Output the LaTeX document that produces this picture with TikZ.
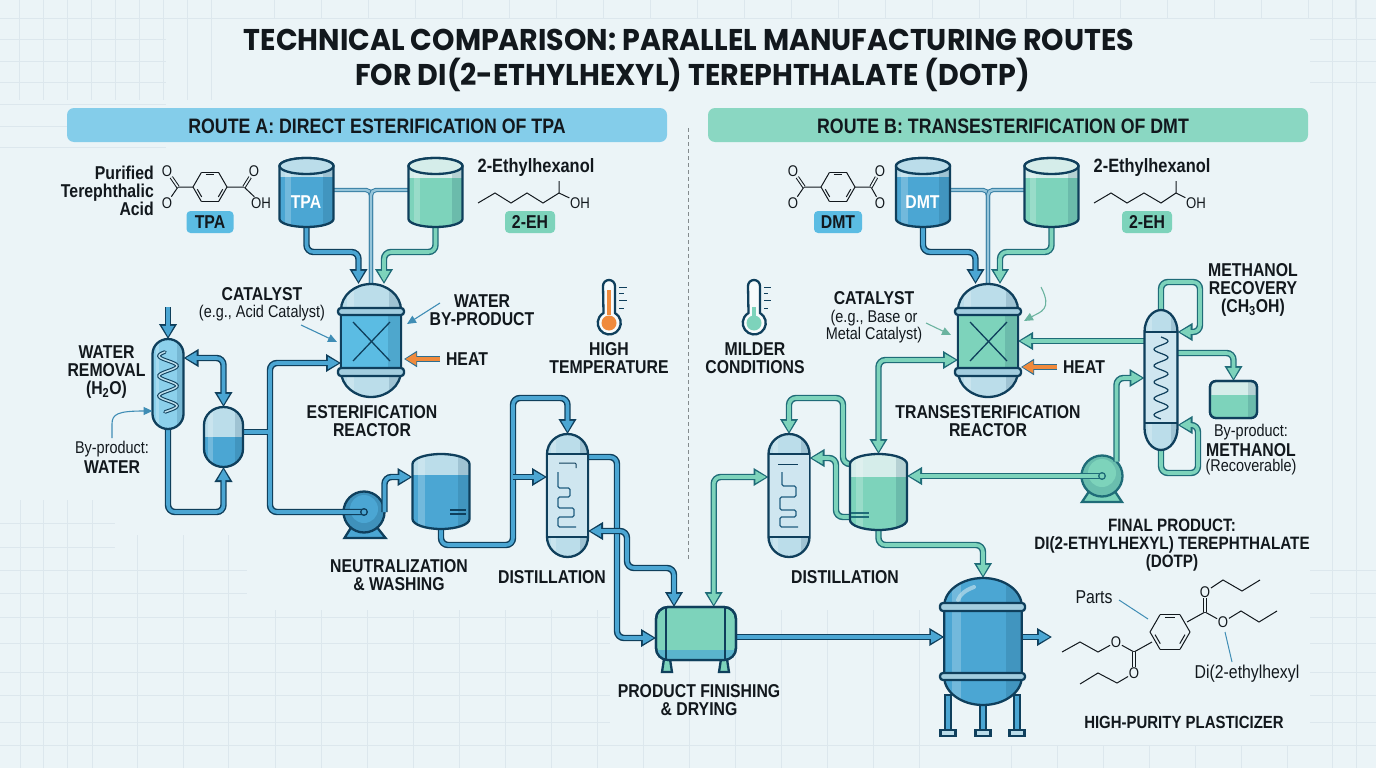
\documentclass[tikz,border=0pt]{standalone}
\usepackage{xcolor}
\usepackage{fontspec}
\setmainfont{Liberation Sans}[FakeStretch=0.85]
\newfontfamily\titlefont{Poppins}[FakeStretch=0.95]
\usepackage{tikz}
\usetikzlibrary{arrows.meta}

\definecolor{paper}{HTML}{EBF4F7}
\definecolor{gridc}{HTML}{DCE7ED}
\definecolor{ink}{HTML}{0F3F5C}
\definecolor{tealink}{HTML}{1F6C78}
\definecolor{labelink}{HTML}{12181D}
\definecolor{pipeblue}{HTML}{4BA6D3}
\definecolor{pipeteal}{HTML}{7DD3BB}
\definecolor{capblue}{HTML}{BBDDEA}
\definecolor{inner}{HTML}{CFE6F0}
\definecolor{midblue}{HTML}{5BBCE3}
\definecolor{toplight}{HTML}{D5EDEA}
\definecolor{leader}{HTML}{3F8DB5}
\definecolor{heat}{HTML}{F08A3C}

\tikzset{
        flow/.style 2 args={rounded corners=7pt,line width=3.6pt,draw=#1,shorten >=2.2pt,
                -{Triangle[length=11pt,width=11.5pt]},
                preaction={draw=#2,line width=6.4pt,shorten >=0pt,-{Triangle[length=15pt,width=17pt]}}},
        flowtwo/.style 2 args={rounded corners=7pt,line width=3.6pt,draw=#1,shorten >=2.2pt,shorten <=2.2pt,
                {Triangle[length=11pt,width=11.5pt]}-{Triangle[length=11pt,width=11.5pt]},
                preaction={draw=#2,line width=6.4pt,shorten >=0pt,shorten <=0pt,
                {Triangle[length=15pt,width=17pt]}-{Triangle[length=15pt,width=17pt]}}},
        blueflow/.style={flow={pipeblue}{ink}},
        tealflow/.style={flow={pipeteal}{tealink}},
        bluetwo/.style={flowtwo={pipeblue}{ink}},
        tealtwo/.style={flowtwo={pipeteal}{tealink}},
        heatflow/.style={line width=4.8pt,draw=heat,shorten >=1.4pt,-{Triangle[length=11pt,width=12pt]},
                preaction={draw=leader!60!ink,line width=6.2pt,shorten >=0pt,-{Triangle[length=13pt,width=15.5pt]}}},
        bluepipe/.style={rounded corners=7pt,line width=3.6pt,draw=pipeblue,preaction={draw=ink,line width=6.4pt}},
        ypipe/.style={rounded corners=5pt,line width=2.4pt,draw=capblue!70!leader,preaction={draw=leader!80!ink,line width=4.4pt}},
        vessel/.style={draw=ink,line width=2.3pt},
        box/.style={inner sep=0pt,outer sep=0pt},
        note/.style={draw=leader,line width=1.1pt,-{Triangle[length=9pt,width=8pt]}},
        notet/.style={draw=pipeteal!85!black,line width=1.1pt,-{Triangle[length=9pt,width=8pt]}},
        gridline/.style={draw=gridc,line width=0.7pt},
        bond/.style={draw=labelink,line width=1pt},
        lab/.style={inner sep=0pt,align=center,text=labelink,font=\fontsize{18.6}{18}\selectfont\bfseries},
        small/.style={inner sep=0pt,align=center,text=labelink,font=\fontsize{17}{17}\selectfont},
        chem/.style={inner sep=0.6pt,text=labelink,fill=paper,font=\fontsize{15.5}{15}\selectfont},
        badge/.style={inner sep=0pt,rounded corners=4pt,minimum height=22pt,text=labelink,font=\fontsize{18.6}{18}\selectfont\bfseries},
        banner/.style={inner sep=0pt,rounded corners=7pt,minimum width=600pt,minimum height=34pt},
        bannertext/.style={inner sep=0pt,text=labelink,font=\fontsize{20.9}{21}\selectfont\bfseries},
        heading/.style={inner sep=0pt,align=center,text=labelink,font=\titlefont\fontsize{30}{35}\selectfont\bfseries},
}

% name, cx, cy, w, h, cap, empty colour, liquid colour, liquid level
\newcommand{\tank}[9]{%
        \node[box,minimum width=#4pt,minimum height=#5pt] (#1) at (#2,#3) {};
        \pgfmathsetmacro\tkL{#2-#4/2}\pgfmathsetmacro\tkR{#2+#4/2}
        \pgfmathsetmacro\tkT{#3-#5/2}\pgfmathsetmacro\tkB{#3+#5/2}
        \pgfmathsetmacro\tkC{#6}\pgfmathsetmacro\tkD{0.45*#6}\pgfmathsetmacro\tkE{0.275*#4}
        \pgfmathsetmacro\tkW{#4}
        \def\tkpath{(\tkL,\tkB-\tkC) -- (\tkL,\tkT+\tkC) .. controls (\tkL,\tkT+\tkD) and (#2-\tkE,\tkT) .. (#2,\tkT)
                .. controls (#2+\tkE,\tkT) and (\tkR,\tkT+\tkD) .. (\tkR,\tkT+\tkC) -- (\tkR,\tkB-\tkC)
                .. controls (\tkR,\tkB-\tkD) and (#2+\tkE,\tkB) .. (#2,\tkB)
                .. controls (#2-\tkE,\tkB) and (\tkL,\tkB-\tkD) .. (\tkL,\tkB-\tkC) -- cycle}
        \begin{scope}
                \clip \tkpath;
                \fill[#7] (\tkL,\tkT) rectangle (\tkR,\tkB);
                \fill[#8] (\tkL,#9) rectangle (\tkR,\tkB);
                \fill[ink,opacity=0.16] (\tkR-0.2*\tkW,\tkT) rectangle (\tkR,\tkB);
                \fill[white,opacity=0.22] (\tkL+0.1*\tkW,\tkT) rectangle (\tkL+0.22*\tkW,\tkB);
        \end{scope}
        \draw[vessel] \tkpath;
}

% name, cx, colour of the middle part
\newcommand{\reactor}[3]{%
        \tank{#1}{#2}{340.5}{60}{113}{26}{capblue}{capblue}{340}
        \fill[#3] (#2-29,312) rectangle (#2+29,372);
        \fill[ink,opacity=0.16] (#2+17,312) rectangle (#2+29,372);
        \draw[vessel] (#2-30,312) -- (#2-30,372) (#2+30,312) -- (#2+30,372);
        \draw[vessel,fill=capblue!80!leader,rounded corners=3pt] (#2-33,308) rectangle (#2+33,315);
        \draw[vessel,fill=capblue!80!leader,rounded corners=3pt] (#2-33,368) rectangle (#2+33,376);
        \draw[ink,line width=1.3pt] (#2-18,322) -- (#2+19,361) (#2+19,322) -- (#2-18,361);
}

% name, cx, cy, w, h
\newcommand{\colbody}[5]{%
        \tank{#1}{#2}{#3}{#4}{#5}{20}{capblue}{capblue}{#3}
        \fill[inner] (#2-#4/2+1,#3-#5/2+20) rectangle (#2+#4/2-1,#3+#5/2-20);
        \draw[ink,line width=1.2pt] (#2-#4/2,#3-#5/2+20) -- (#2+#4/2,#3-#5/2+20)
                (#2-#4/2,#3+#5/2-20) -- (#2+#4/2,#3+#5/2-20);
}

% name, cx, cy, radius
\newcommand{\ring}[4]{%
        \coordinate (#1) at (#2,#3);
        \foreach \a in {0,60,...,300} {
                \draw[bond] ({#2+#4*cos(\a)},{#3+#4*sin(\a)}) -- ({#2+#4*cos(\a+60)},{#3+#4*sin(\a+60)});
        }
        \foreach \a in {0,120,240} {
                \draw[bond] ({#2+0.76*#4*cos(\a+10)},{#3+0.76*#4*sin(\a+10)}) -- ({#2+0.76*#4*cos(\a+50)},{#3+0.76*#4*sin(\a+50)});
        }
}

\begin{document}
\begin{tikzpicture}[x=1pt,y=-1pt]
        \useasboundingbox (0,0) rectangle (1376,768);
        \fill[paper] (0,0) rectangle (1376,768);

        % Grid
        \foreach \x in {19,43,...,211} { \draw[gridline] (\x,0) -- (\x,100); }
        \foreach \y in {18,39,61,82,104,126,147} { \draw[gridline] (0,\y) -- (166,\y); }
        \foreach \x in {274,321,...,1376} { \draw[gridline] (\x,0) -- (\x,18); }
        \draw[gridline] (166,18) -- (1376,18);
        \foreach \x in {20,43,67,92} { \draw[gridline] (\x,500) -- (\x,768); }
        \foreach \x in {137,183,228} { \draw[gridline] (\x,535) -- (\x,768); }
        \foreach \x in {275,321,...,930} { \draw[gridline] (\x,610) -- (\x,768); }
        \foreach \y in {523,547} { \draw[gridline] (0,\y) -- (115,\y); }
        \foreach \y in {570,593} { \draw[gridline] (0,\y) -- (247,\y); }
        \foreach \y in {617,643,672,695,722} { \draw[gridline] (0,\y) -- (610,\y); }
        \draw[gridline] (0,745) -- (1376,745);
        \foreach \x in {1011,1057,...,1320} { \draw[gridline] (\x,745) -- (\x,768); }
        \foreach \x in {1332,1356} { \draw[gridline] (\x,0) -- (\x,768); }
        \foreach \y in {39,61,82,570,593,617,643,672,695,722} { \draw[gridline] (1310,\y) -- (1376,\y); }

        % Titles
        \node[heading] (titleA) at (689,40) {TECHNICAL COMPARISON: PARALLEL MANUFACTURING ROUTES};
        \node[heading] (titleB) at (692.5,75) {FOR DI(2-ETHYLHEXYL) TEREPHTHALATE (DOTP)};
        \node[banner,fill=midblue!75!white] (routeA) at (367,125) {};
        \node[banner,fill=pipeteal!90!white] (routeB) at (1008,125) {};
        \node[bannertext] (routeAtext) at (377,126) {ROUTE A: DIRECT ESTERIFICATION OF TPA};
        \node[bannertext] (routeBtext) at (1003,126) {ROUTE B: TRANSESTERIFICATION OF DMT};
        \coordinate (divtop) at (688,128);
        \coordinate (divbot) at (688,560);
        \draw[gridc!60!black,line width=0.8pt,dash pattern=on 4pt off 3pt] (divtop) -- (divbot);

        % Pumps
        \draw[vessel,fill=pipeblue] (344.5,538) -- (352,526) -- (376,526) -- (385.5,538) -- cycle;
        \node[box,circle,vessel,fill=pipeblue!80!ink,minimum size=41pt] (pumpA) at (364,512) {};
        \fill[pipeblue] (364,509) circle (14);
        \draw[tealink,line width=2.3pt,fill=pipeteal] (1082,502) -- (1090,490) -- (1114,490) -- (1122,502) -- cycle;
        \node[box,circle,vessel,draw=tealink,fill=pipeteal!80!tealink,minimum size=41pt] (pumpB) at (1102,476) {};
        \fill[pipeteal] (1102,473) circle (14);

        % Vessels come later, so place the ends of the pipes first
        \coordinate (inA1) at (358.5,284);
        \coordinate (inA2) at (384,284);
        \coordinate (inA3) at (371,284);
        \coordinate (inB1) at (975.5,284);
        \coordinate (inB2) at (1000,284);
        \coordinate (inB3) at (988,284);
        \coordinate (junA) at (270,432);
        \coordinate (junB) at (513,477);
        \coordinate (condin) at (168,307);
        \coordinate (outP) at (1052,637);

        % Pipes, route A
        \node[box,minimum width=54pt,minimum height=69pt] (tpa) at (306.5,192.5) {};
        \node[box,minimum width=54pt,minimum height=69pt] (ehA) at (435.5,192.5) {};
        \node[box,minimum width=60pt,minimum height=113pt] (reactA) at (371,340.5) {};
        \node[box,minimum width=31pt,minimum height=90pt] (cond) at (168,384) {};
        \node[box,minimum width=39pt,minimum height=60pt] (trap) at (223.5,437) {};
        \node[box,minimum width=57pt,minimum height=75pt] (tankN) at (441,491.5) {};
        \node[box,minimum width=41pt,minimum height=123pt] (colA) at (567.5,495.5) {};
        \node[box,minimum width=80pt,minimum height=53pt] (drum) at (696,633.5) {};
        \node[box,minimum width=77.5pt,minimum height=127pt] (finalV) at (983,641.5) {};
        \draw[ypipe] (tpa.east |- 0,190) -- (371,190) -- (inA3);
        \draw[ypipe] (ehA.west |- 0,190) -- (371,190) -- (inA3);
        \draw[blueflow] (tpa.south) -- ++(0,25) -| (inA1);
        \draw[tealflow] (ehA.south) -- ++(0,25) -| (inA2);
        \draw[blueflow] (condin) -- (cond.north);
        \draw[bluetwo] (cond.east |- 0,358) -| (trap.north);
        \draw[blueflow] (cond.south) -- ++(0,83) -| (trap.south);
        \draw[blueflow] (junA) |- (reactA.west |- 0,363);
        \draw[bluepipe] (junA) |- (pumpA.center);
        \draw[bluepipe] (trap.east |- junA) -- (junA);
        \draw[pipeblue,line width=3.6pt] (trap.east |- junA) -- (junA) -- ++(0,6) (junA) -- ++(0,-6);
        \fill[ink] (pumpA.center) circle (4);
        \fill[pipeblue] (pumpA.center) circle (2.4);
        \draw[blueflow] (pumpA.east) |- (tankN.west |- 0,477);
        \draw[blueflow] (tankN.south) -- ++(0,16) -| (513,398) -| (colA.north);
        \draw[blueflow] (junB) -- (colA.west |- 0,477);
        \draw[blueflow] (colA.east |- 0,457) -| (617,638) -- (drum.west |- 0,638);
        \draw[bluetwo] (colA.east |- 0,531) -| (627,568) -| (674,0 |- drum.north);
        \draw[blueflow] (drum.east |- 0,637) -- (finalV.west |- 0,637);
        \draw[blueflow] (finalV.east |- 0,637) -- (outP);

        % Pipes, route B
        \node[box,minimum width=54pt,minimum height=69pt] (dmt) at (923,192.5) {};
        \node[box,minimum width=54pt,minimum height=69pt] (ehB) at (1051.5,192.5) {};
        \node[box,minimum width=60pt,minimum height=113pt] (reactB) at (988,340.5) {};
        \node[box,minimum width=41pt,minimum height=123pt] (colB) at (789,495.5) {};
        \node[box,minimum width=57pt,minimum height=76pt] (tankB) at (878.5,492) {};
        \node[box,minimum width=33pt,minimum height=140pt] (colM) at (1161,380) {};
        \node[box,minimum width=47pt,minimum height=37pt] (smallB) at (1233.5,399.5) {};
        \draw[ypipe] (dmt.east |- 0,190) -- (988,190) -- (inB3);
        \draw[ypipe] (ehB.west |- 0,190) -- (988,190) -- (inB3);
        \draw[blueflow] (dmt.south) -- ++(0,25) -| (inB1);
        \draw[tealflow] (ehB.south) -- ++(0,25) -| (inB2);
        \draw[tealflow] (tankB.west |- 0,464) -| (843,398) -| (colB.north);
        \draw[tealflow] (tankB.west |- 0,517) -| (836,458) -- (colB.east |- 0,458);
        \draw[tealtwo] (tankB.north) |- (reactB.west |- 0,360);
        \draw[tealflow] (pumpB.center) -- (tankB.east |- pumpB);
        \fill[tealink] (pumpB.center) circle (4);
        \fill[pipeteal] (pumpB.center) circle (2.4);
        \draw[tealflow] (tankB.south) -- ++(0,15) -| (finalV.north);
        \draw[tealtwo] (713.7,0 |- drum.north) |- (colB.west |- 0,477);
        \draw[tealflow] (pumpB.north east) |- (colM.west |- 0,378);
        \draw[tealflow] (colM.west |- 0,341) -- (reactB.east |- 0,341);
        \draw[tealflow] (colM.north) |- (1200,282) |- (colM.east |- 0,332);
        \draw[tealflow] (colM.south) |- (1198,473) |- (colM.east |- 0,425);
        \draw[tealflow] (colM.east |- 0,353) -| (smallB.north);

        % Tanks
        \tank{tpa}{306.5}{192.5}{54}{69}{8}{capblue}{pipeblue}{177}
        \draw[vessel,fill=capblue] (306.5,166) ellipse (27 and 8);
        \tank{ehA}{435.5}{192.5}{54}{69}{8}{toplight}{pipeteal}{178}
        \draw[vessel,fill=toplight] (435.5,166) ellipse (27 and 8);
        \tank{dmt}{923}{192.5}{54}{69}{8}{capblue}{pipeblue}{177}
        \draw[vessel,fill=capblue] (923,166) ellipse (27 and 8);
        \tank{ehB}{1051.5}{192.5}{54}{69}{8}{toplight}{pipeteal}{178}
        \draw[vessel,fill=toplight] (1051.5,166) ellipse (27 and 8);
        \node[text=white,font=\fontsize{18.6}{18}\selectfont\bfseries,inner sep=0pt] (tpatext) at (306,202) {TPA};
        \node[text=white,font=\fontsize{18.6}{18}\selectfont\bfseries,inner sep=0pt] (dmttext) at (922.5,202) {DMT};

        % Reactors
        \reactor{reactA}{371}{midblue}
        \reactor{reactB}{988}{pipeteal}

        % Water removal and its small vessel
        \tank{cond}{168}{384}{31}{90}{15}{midblue!70!white}{midblue!70!white}{384}
        \draw[ink,line width=3.6pt,smooth,samples=60,domain=0:1,line cap=round] plot ({168+9*sin(\x*1080+200)},{352+60*\x});
        \draw[capblue,line width=1.5pt,smooth,samples=60,domain=0:1,line cap=round] plot ({168+9*sin(\x*1080+200)},{352+60*\x});
        \tank{trap}{223.5}{437}{39}{60}{18}{capblue}{pipeblue}{437}

        % Neutralization and distillation
        \tank{tankN}{441}{491.5}{57}{75}{10}{capblue}{pipeblue}{475}
        \draw[ink,line width=1.1pt] (450,510) -- (466,510) (450,514) -- (466,514);
        \colbody{colA}{567.5}{495.5}{41}{123}
        \draw[ink,line width=1pt,rounded corners=1pt] (559,463) -- (576,463) -- (576,468);
        \draw[ink!70!pipeblue,line width=1.1pt,rounded corners=1.5pt] (558,472) -- (558,488) -- (570,488) -- (570,497) -- (558,497) -- (558,508) -- (574,508) -- (574,517) -- (558,517) -- (558,527) -- (576,527);
        \colbody{colB}{789}{495.5}{41}{123}
        \draw[ink,line width=1pt] (778,464) -- (798,464);
        \draw[ink!70!pipeblue,line width=1.1pt,rounded corners=1.5pt] (782,472) -- (782,486) -- (796,486) -- (796,497) -- (780,497) -- (780,510) -- (796,510) -- (796,517) -- (780,517) -- (780,527) -- (798,527);
        \tank{tankB}{878.5}{492}{57}{76}{10}{toplight}{pipeteal}{477}
        \draw[tealink,line width=1.1pt] (851,513) -- (869,513) (851,517) -- (869,517);

        % Methanol column
        \tank{colM}{1161}{380}{33}{140}{22}{capblue}{capblue}{340}
        \fill[inner] (1146,332) rectangle (1176,423);
        \draw[ink,line width=1.2pt] (1145,332) -- (1177,332) (1145,423) -- (1177,423);
        \draw[ink,line width=1.2pt,smooth,samples=80,domain=0:1] plot ({1161+7*sin(\x*1800)},{337+82*\x});
        \draw[vessel,rounded corners=6pt,fill=toplight] (smallB.south west) rectangle (smallB.north east);
        \begin{scope}
                \clip[rounded corners=6pt] (smallB.south west) rectangle (smallB.north east);
                \fill[pipeteal] (smallB.west |- 0,395) rectangle (smallB.south east);
                \fill[ink,opacity=0.16] (1248,381) rectangle (1257,418);
        \end{scope}
        \draw[vessel,rounded corners=6pt] (smallB.south west) rectangle (smallB.north east);

        % Drum and final vessel
        \foreach \x in {667,724} {
                \draw[vessel,fill=pipeteal] (\x-3,659) -- (\x-5,672) -- (\x+5,672) -- (\x+3,659) -- cycle;
        }
        \node[box,vessel,rounded corners=12pt,fill=pipeteal,minimum width=80pt,minimum height=53pt] (drum) at (696,633.5) {};
        \begin{scope}
                \clip[rounded corners=12pt] (drum.south west) rectangle (drum.north east);
                \fill[pipeblue!70!pipeteal] (drum.west |- 0,650) rectangle (drum.south east);
        \end{scope}
        \draw[vessel,rounded corners=12pt] (drum.south west) rectangle (drum.north east);
        \draw[ink,line width=1.1pt] (666,607) -- (666,660) (725,607) -- (725,660);
        \foreach \x in {948,983,1017} {
                \draw[vessel,fill=pipeblue] (\x-3,695) rectangle (\x+3,731);
                \draw[vessel,fill=capblue] (\x-7.5,730) rectangle (\x+7.5,736);
        }
        \tank{finalV}{983}{641.5}{77.5}{127}{28}{pipeblue}{pipeblue}{600}
        \draw[capblue,opacity=0.7,line width=4pt,line cap=round] (958,600) .. controls (960,594) and (966,590) .. (974,587);
        \draw[vessel,fill=capblue!80!leader,rounded corners=3pt] (940,603) rectangle (1025,611);
        \draw[vessel,fill=capblue!80!leader,rounded corners=3pt] (940,673) rectangle (1025,680);

        % Thermometers
        \draw[vessel,fill=white!60!paper] (603,286) arc (180:360:6) -- (615,313) arc (-60:240:11.5) -- cycle;
        \fill[heat] (607,290) rectangle (611,315);
        \fill[heat] (609,323) circle (7.5);
        \foreach \y/\l in {287/627,293/624,300/627,308/624} { \draw[ink,line width=1pt] (619,\y) -- (\l,\y); }
        \draw[vessel,fill=white!60!paper] (748,286) arc (180:360:6) -- (760,313) arc (-60:240:11.5) -- cycle;
        \fill[pipeteal] (752,307) rectangle (756,318);
        \fill[pipeteal] (754,323) circle (7.5);
        \foreach \y/\l in {287/771,293/768,300/771,308/768} { \draw[ink,line width=1pt] (764,\y) -- (\l,\y); }

        % Molecules
        \ring{ringT}{210}{187}{17}
        \node[chem] (oT1) at (167,171) {O};
        \node[chem] (oT2) at (167,203) {O};
        \node[chem] (oT3) at (254,171) {O};
        \node[chem] (oT4) at (261,203) {OH};
        \coordinate (cT1) at (178,187);
        \coordinate (cT2) at (244,187);
        \draw[bond] (193,187) -- (cT1) -- (oT2);
        \draw[bond,double=paper,double distance=1.6pt] (cT1) -- (oT1);
        \draw[bond] (227,187) -- (cT2) -- (oT4);
        \draw[bond,double=paper,double distance=1.6pt] (cT2) -- (oT3);
        \ring{ringD}{838}{187}{17}
        \node[chem] (oD1) at (793,171) {O};
        \node[chem] (oD2) at (793,203) {O};
        \node[chem] (oD3) at (880,171) {O};
        \node[chem] (oD4) at (880,203) {O};
        \coordinate (cD1) at (804,187);
        \coordinate (cD2) at (871,187);
        \draw[bond] (821,187) -- (cD1) -- (oD2);
        \draw[bond,double=paper,double distance=1.6pt] (cD1) -- (oD1);
        \draw[bond] (855,187) -- (cD2) -- (oD4);
        \draw[bond,double=paper,double distance=1.6pt] (cD2) -- (oD3);
        \node[chem] (ohA) at (580,203) {OH};
        \draw[bond] (478,203) -- (495,193) -- (511,203) -- (527,193) -- (543,203) -- (559,193) -- (559,181) (559,193) -- (ohA);
        \node[chem] (ohB) at (1196,203) {OH};
        \draw[bond] (1094,203) -- (1111,193) -- (1127,203) -- (1144,193) -- (1161,203) -- (1176,193) -- (1176,181) (1176,193) -- (ohB);
        \ring{ringP}{1170}{632}{20}
        \node[chem] (oP1) at (1205,592) {O};
        \node[chem] (oP2) at (1223,622) {O};
        \node[chem] (oP3) at (1134,673) {O};
        \node[chem] (oP4) at (1116,642) {O};
        \coordinate (cP1) at (1205,612);
        \coordinate (cP2) at (1134,652);
        \draw[bond] (1187,622) -- (cP1) -- (oP2) -- (1241,611) -- (1259,622) -- (1277,611);
        \draw[bond,double=paper,double distance=1.6pt] (cP1) -- (oP1);
        \draw[bond] (oP1) -- (1223,580) -- (1242,591) -- (1260,580);
        \draw[bond] (1152,642) -- (cP2) -- (oP4) -- (1098,652) -- (1080,642) -- (1062,652);
        \draw[bond,double=paper,double distance=1.6pt] (cP2) -- (oP3);
        \draw[bond] (oP3) -- (1117,683) -- (1098,673) -- (1080,684);

        % Notes and heat
        \coordinate (catAtail) at (301,325);
        \coordinate (catAhead) at (337,342);
        \coordinate (wbAtail) at (440,303);
        \coordinate (wbAhead) at (407,324);
        \coordinate (heatAtail) at (440,359);
        \coordinate (heatBtail) at (1057,367);
        \coordinate (catBtail) at (926,323);
        \coordinate (catBhead) at (951,335);
        \coordinate (wbBtail) at (1041,287);
        \coordinate (wbBhead) at (1024,321);
        \coordinate (wtail) at (112,438);
        \coordinate (partstail) at (1119,600);
        \coordinate (partshead) at (1148,619);
        \coordinate (ditail) at (1225,632);
        \coordinate (dihead) at (1232,662);
        \draw[note] (catAtail) -- (catAhead);
        \draw[note] (wbAtail) -- (wbAhead);
        \draw[heatflow] (heatAtail) -- ([xshift=3pt]reactA.east |- heatAtail);
        \draw[heatflow] (heatBtail) -- ([xshift=3pt]reactB.east |- heatBtail);
        \draw[notet] (catBtail) -- (catBhead);
        \draw[notet] (wbBtail) .. controls (1053,310) and (1040,312) .. (wbBhead);
        \draw[note] (wtail) -- (112,424) .. controls (112,414) and (118,411) .. (cond.west |- 0,411);
        \draw[leader,line width=1pt] (partstail) -- (partshead);
        \draw[leader,line width=1pt] (ditail) -- (dihead);

        % Labels
        \node[lab,align=right,anchor=east] (tpaname) at (154,191) {Purified\\Terephthalic\\Acid};
        \node[badge,fill=midblue,minimum width=47pt] (tpabadge) at (210,222) {TPA};
        \node[badge,fill=pipeteal,minimum width=50pt] (ehbadgeA) at (530,222) {2-EH};
        \node[badge,fill=midblue,minimum width=48pt] (dmtbadge) at (838,222) {DMT};
        \node[badge,fill=pipeteal,minimum width=50pt] (ehbadgeB) at (1147,222) {2-EH};
        \node[lab,font=\fontsize{19.3}{18}\selectfont\bfseries] (ehnameA) at (536,168) {2-Ethylhexanol};
        \node[lab,font=\fontsize{19.3}{18}\selectfont\bfseries] (ehnameB) at (1152,168) {2-Ethylhexanol};
        \node[lab] (catA) at (262,294) {CATALYST};
        \node[small] (catAsub) at (262,313) {(e.g., Acid Catalyst)};
        \node[lab] (wbA) at (482,310) {WATER\\BY-PRODUCT};
        \node[lab] (heatA) at (467,359) {HEAT};
        \node[lab] (hot) at (609,358) {HIGH\\TEMPERATURE};
        \node[lab] (reactAname) at (372,421) {ESTERIFICATION\\REACTOR};
        \node[lab] (waterrem) at (106.5,372) {WATER\\REMOVAL\\(H\textsubscript{2}O)};
        \node[small] (byA) at (112,449) {By-product:};
        \node[lab] (byAname) at (112,467) {WATER};
        \node[lab] (neutname) at (399,575) {NEUTRALIZATION\\\& WASHING};
        \node[lab] (distA) at (552,577) {DISTILLATION};
        \node[lab] (finname) at (699,700) {PRODUCT FINISHING\\\& DRYING};
        \node[lab] (mild) at (755,358) {MILDER\\CONDITIONS};
        \node[lab] (catB) at (874,298.5) {CATALYST};
        \node[small] (catBsub) at (874,326.5) {(e.g., Base or\\Metal Catalyst)};
        \node[lab] (heatB) at (1084,367) {HEAT};
        \node[lab] (reactBname) at (988,421) {TRANSESTERIFICATION\\REACTOR};
        \node[lab] (metrec) at (1253,290) {METHANOL\\RECOVERY\\(CH\textsubscript{3}OH)};
        \node[small] (byB) at (1251,432.5) {By-product:};
        \node[lab] (byBname) at (1251,450) {METHANOL};
        \node[small] (recov) at (1251,467.5) {(Recoverable)};
        \node[lab] (distB) at (845,577) {DISTILLATION};
        \node[lab,font=\fontsize{17.9}{18}\selectfont\bfseries] (finalname) at (1172,545) {FINAL PRODUCT:\\DI(2-ETHYLHEXYL) TEREPHTHALATE\\(DOTP)};
        \node[small,font=\fontsize{18.6}{19}\selectfont] (parts) at (1094,597) {Parts};
        \node[small,font=\fontsize{18.6}{19}\selectfont] (diname) at (1247,674) {Di(2-ethylhexyl};
        \node[lab,font=\fontsize{17.6}{18}\selectfont\bfseries] (plast) at (1184,722) {HIGH-PURITY PLASTICIZER};
\end{tikzpicture}
\end{document}
